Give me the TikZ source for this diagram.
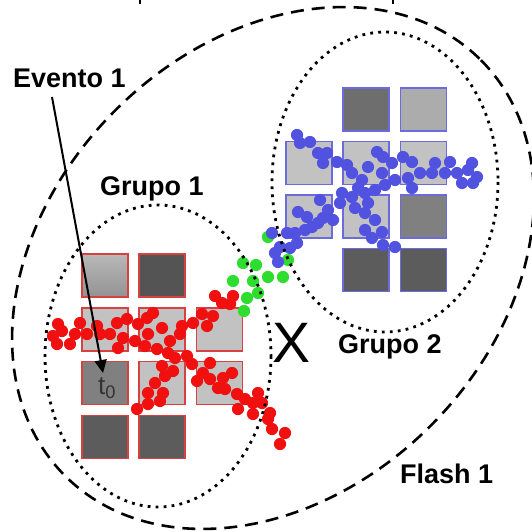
\documentclass[tikz,border=0pt]{standalone}
\usepackage{fontspec}
\setmainfont{Liberation Sans}
\usetikzlibrary{arrows.meta}

\definecolor{redborder}{HTML}{D94040}
\definecolor{blueborder}{HTML}{6B6BDD}
\definecolor{lightsq}{HTML}{C2C2C2}
\definecolor{midsq}{HTML}{808080}
\definecolor{darksq}{HTML}{5C5C5C}
\definecolor{reddot}{HTML}{F01010}
\definecolor{bluedot}{HTML}{5252E0}
\definecolor{greendot}{HTML}{2EDD2E}

\begin{document}
\begin{tikzpicture}[x=1pt,y=-1pt,
  cell/.style={draw, line width=1.4pt, minimum width=46pt, minimum height=43pt, inner sep=0pt},
  redcell/.style={cell, draw=redborder},
  bluecell/.style={cell, draw=blueborder},
  label/.style={font=\bfseries\fontsize{27}{27}\selectfont, inner sep=0pt, anchor=base west},
  groupline/.style={line width=2.8pt, dash pattern=on 2.8pt off 5.2pt},
  flashline/.style={line width=2.6pt, dash pattern=on 13pt off 8pt},
  dotr/.style={radius=6.1}]

\useasboundingbox (0,0) rectangle (531,532);
\fill[white] (0,0) rectangle (531,532);

% cut-off text descenders at the top edge
\draw[line width=2.6pt] (140,0) -- (140,4);
\draw[line width=2.6pt] (393,0) -- (393,4);

% group 1 cells (red frames)
\node[redcell, top color=gray!55, bottom color=gray!85] (a11) at (105,275.5) {};
\node[redcell, fill=darksq!105] (a12) at (162,275.5) {};
\node[redcell, fill=lightsq] (a21) at (105,329.5) {};
\node[redcell, fill=lightsq] (a22) at (162,329.5) {};
\node[redcell, fill=lightsq] (a23) at (219.5,329.5) {};
\node[redcell, fill=midsq] (a31) at (105,383) {};
\node[redcell, fill=lightsq] (a32) at (162,383) {};
\node[redcell, fill=lightsq] (a33) at (219.5,383) {};
\node[redcell, fill=darksq] (a41) at (105,437) {};
\node[redcell, fill=darksq] (a42) at (162,437) {};

% group 2 cells (blue frames)
\node[bluecell, fill=gray!80!black!95] (b12) at (366,109.5) {};
\node[bluecell, fill=gray!65] (b13) at (423.5,109.5) {};
\node[bluecell, fill=lightsq] (b21) at (309,163) {};
\node[bluecell, fill=lightsq] (b22) at (366,163) {};
\node[bluecell, fill=lightsq] (b23) at (423.5,163) {};
\node[bluecell, fill=lightsq] (b31) at (309,216.5) {};
\node[bluecell, fill=lightsq] (b32) at (366,216.5) {};
\node[bluecell, fill=midsq] (b33) at (423.5,216.5) {};
\node[bluecell, fill=darksq] (b42) at (366,270) {};
\node[bluecell, fill=darksq] (b43) at (423.5,270) {};

% time label in the start cell
\node[inner sep=0pt, anchor=base west, text=black!80,
      font=\fontsize{26}{26}\selectfont] (t0) at (98,394) {t\textsubscript{0}};

% hits
\foreach \p in {(268,237),(243,263),(256,265),(233,281),(253,281),(268,277),
  (283,277),(258,293),(247,298),(244,311),(288,260)}
  \fill[greendot] \p circle[dotr];

\foreach \p in {(58,324),(53,336),(62,331),(57,344),(70,344),(75,334),(80,323),
  (87,334),(97,326),(100,334),(110,334),(117,323),(118,348),(123,338),(127,319),
  (135,341),(138,324),(147,318),(153,313),(148,334),(145,346),(157,349),(162,328),
  (170,341),(168,353),(175,358),(180,334),(182,326),(187,356),(192,364),(193,323),
  (202,314),(207,326),(213,316),(215,296),(222,303),(230,304),(233,296),(210,363),
  (203,373),(197,381),(210,379),(218,388),(225,389),(223,378),(232,373),(237,394),
  (245,399),(238,409),(253,403),(258,393),(253,414),(262,403),(162,366),(173,371),
  (165,376),(155,383),(148,393),(163,393),(160,401),(148,404),(137,409),(270,413),
  (268,419),(272,429),(285,433),(280,444)}
  \fill[reddot] \p circle[dotr];

\foreach \p in {(297,135),(300,143),(310,142),(318,153),(327,153),(323,163),
  (337,162),(347,165),(352,173),(362,180),(358,188),(368,167),(377,152),(383,157),
  (392,163),(382,173),(385,185),(375,190),(395,180),(403,157),(412,162),(408,178),
  (420,173),(412,188),(432,173),(435,163),(445,173),(450,162),(457,173),(462,183),
  (468,170),(472,163),(477,177),(473,183),(365,193),(352,197),(342,193),(340,203),
  (320,200),(328,210),(333,220),(323,218),(318,223),(312,227),(305,230),(298,212),
  (307,217),(295,233),(287,233),(290,248),(280,247),(275,253),(272,233),(278,262),
  (355,208),(365,213),(375,220),(368,203),(365,230),(382,232),(372,238),(383,245),
  (395,247),(297,243)}
  \fill[bluedot] \p circle[dotr];

% group outlines
\draw[groupline] (158,356) ellipse [x radius=113, y radius=151];
\draw[groupline] (385,182) ellipse [x radius=113, y radius=150];

% flash outline
\draw[flashline, rotate around={45:(273,268)}] (273,268) ellipse [x radius=294, y radius=223];

% labels
\node[label] (evento) at (13,88) {Evento 1};
\node[label] (grupo1) at (100,195) {Grupo 1};
\node[label] (grupo2) at (338,353) {Grupo 2};
\node[label] (flash) at (400,483) {Flash 1};
\node[inner sep=0pt, anchor=base west, font=\fontsize{57}{57}\selectfont] (cross) at (272,362) {X};

% event pointer
\coordinate (evfrom) at (52,97);
\coordinate (evto) at (103,373);
\draw[line width=2pt, -{Triangle[length=13pt,width=12pt]}] (evfrom) -- (evto);

\end{tikzpicture}
\end{document}
